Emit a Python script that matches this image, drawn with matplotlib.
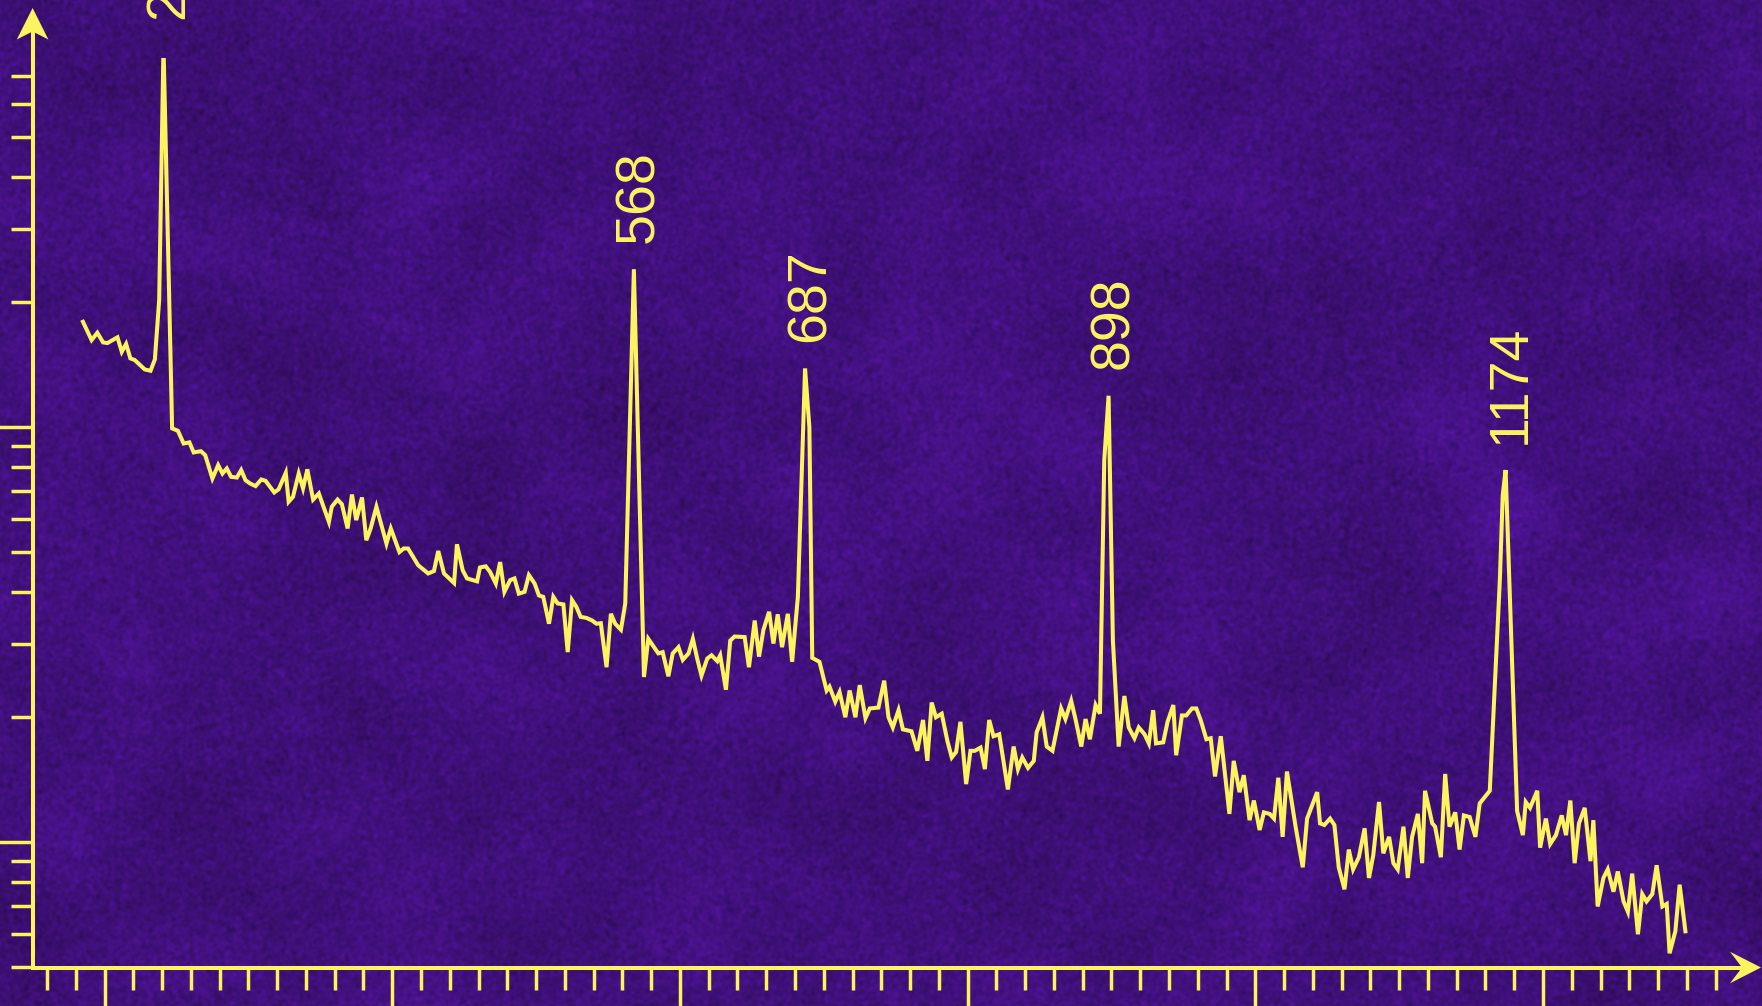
import numpy as np
import matplotlib
matplotlib.use("Agg")
import matplotlib.pyplot as plt
from matplotlib.ticker import MultipleLocator, LogLocator, NullFormatter
from matplotlib.patches import Polygon
from matplotlib.lines import Line2D

# Raman shift (cm^-1) and measured intensity (counts)
wavenumber = [
    185, 191, 195, 199, 202, 209, 212, 215, 218, 221, 228, 232, 235, 238, 241,
    247, 251, 255, 259, 262, 267, 270, 275, 279, 282, 285, 288, 292, 295, 298,
    301, 305, 309, 312, 318, 321, 326, 328, 331, 335, 338, 341, 345, 349, 351,
    356, 358, 362, 365, 369, 372, 375, 379, 382, 385, 389, 396, 399, 405, 408,
    411, 418, 425, 429, 432, 436, 443, 445, 449, 452, 459, 461, 465, 468, 472,
    475, 478, 482, 485, 488, 492, 495, 499, 502, 505, 509, 512, 515, 519, 522,
    525, 528, 531, 535, 539, 542, 545, 549, 552, 555, 559, 562, 568, 575, 578,
    582, 585, 588, 592, 595, 599, 602, 606, 609, 612, 615, 619, 622, 626, 628,
    632, 635, 638, 645, 648, 652, 655, 658, 662, 665, 668, 671, 675, 678, 682,
    687, 690, 692, 697, 702, 704, 708, 711, 715, 718, 722, 725, 729, 732, 738,
    742, 745, 748, 752, 755, 761, 765, 769, 772, 775, 778, 782, 786, 789, 792,
    795, 799, 802, 805, 809, 812, 815, 818, 822, 825, 828, 832, 835, 838, 842,
    846, 848, 852, 855, 859, 862, 865, 868, 872, 875, 879, 882, 885, 889, 892,
    895, 898, 901, 905, 909, 912, 916, 919, 923, 926, 929, 931, 936, 939, 943,
    945, 949, 952, 956, 959, 962, 966, 969, 972, 976, 979, 982, 985, 989, 992,
    996, 999, 1003, 1006, 1010, 1013, 1016, 1019, 1022, 1028, 1033, 1036, 1043,
    1045, 1048, 1052, 1055, 1058, 1062, 1065, 1068, 1072, 1076, 1079, 1082,
    1086, 1089, 1093, 1096, 1099, 1103, 1106, 1109, 1113, 1116, 1118, 1123,
    1125, 1129, 1132, 1135, 1139, 1142, 1145, 1149, 1153, 1156, 1163, 1166,
    1170, 1172, 1174, 1182, 1186, 1188, 1191, 1196, 1198, 1202, 1205, 1209,
    1213, 1216, 1219, 1222, 1225, 1229, 1233, 1235, 1238, 1242, 1245, 1249,
    1252, 1256, 1259, 1262, 1266, 1269, 1272, 1276, 1279, 1283, 1286, 1288,
    1292, 1295, 1299,
]
intensity = [
    1794, 1621, 1688, 1600, 1594, 1646, 1519, 1586, 1464, 1451, 1377, 1367, 1456, 2025, 8300,
    993, 980, 913, 919, 869, 875, 856, 752, 810, 773, 795, 759, 756, 788, 745,
    732, 721, 748, 742, 696, 708, 776, 661, 679, 773, 712, 791, 669, 692, 661,
    591, 643, 669, 652, 570, 688, 597, 677, 534, 570, 643, 524, 570, 500, 510,
    510, 465, 444, 450, 503, 444, 421, 522, 452, 432, 425, 459, 462, 448, 420,
    473, 401, 428, 432, 397, 401, 440, 420, 393, 390, 336, 390, 376, 374, 287,
    383, 369, 349, 347, 342, 336, 337, 264, 355, 336, 325, 376, 2401, 250, 309,
    295, 285, 287, 251, 285, 295, 275, 285, 309, 277, 252, 277, 282, 273, 282,
    233, 306, 313, 312, 264, 342, 280, 324, 359, 301, 354, 295, 355, 272, 390,
    1385, 1000, 278, 272, 232, 237, 218, 230, 200, 232, 200, 239, 199, 210, 211,
    245, 200, 189, 208, 187, 185, 166, 197, 157, 217, 200, 204, 175, 160, 165,
    195, 138, 166, 166, 169, 150, 197, 180, 182, 156, 134, 170, 150, 160, 151,
    157, 184, 200, 170, 166, 187, 210, 198, 219, 198, 170, 198, 177, 214, 204,
    833, 1190, 306, 170, 225, 189, 178, 189, 182, 173, 208, 173, 174, 195, 214,
    162, 202, 202, 210, 210, 197, 177, 178, 144, 180, 145, 117, 157, 132, 145,
    113, 126, 107, 118, 117, 114, 143, 103, 148, 109, 87, 114, 132,
    111, 110, 114, 110, 87, 77, 96, 86, 92, 108, 82, 93,
    125, 94, 103, 89, 86, 109, 82, 103, 117, 89, 133, 111,
    109, 92, 146, 109, 118, 96, 116, 115, 103, 124, 133, 220,
    428, 686, 788, 119, 104, 125, 121, 133, 97, 114, 99, 104,
    116, 104, 126, 89, 111, 121, 90, 113, 70, 82, 86, 76,
    85, 72, 68, 84, 60, 75, 72, 75, 88, 70, 71, 54,
    61, 79, 61,
]
peak_positions = [241, 568, 687, 898, 1174]
peak_labels = ["241", "568", "687", "898", "1174"]

BG = "#40107a"
FG = "#fcf45e"
W, H = 1762, 1006

fig = plt.figure(figsize=(W / 100, H / 100), dpi=100, facecolor=BG)

# Subtly mottled purple backdrop
def _smooth(a, s):
    fy = np.fft.fftfreq(a.shape[0])[:, None]
    fx = np.fft.fftfreq(a.shape[1])[None, :]
    g = np.exp(-2 * (np.pi * s) ** 2 * (fx ** 2 + fy ** 2))
    out = np.real(np.fft.ifft2(np.fft.fft2(a) * g))
    return out / out.std()

rng = np.random.default_rng(11)
coarse = _smooth(rng.standard_normal((H, W)), 30)
fine = _smooth(rng.standard_normal((H, W)), 1.5)
shade = 1 + 0.045 * coarse + 0.06 * fine
base = np.array([64, 16, 122]) / 255
backdrop = np.clip(base[None, None, :] * shade[..., None], 0, 1)
bg_ax = fig.add_axes([0, 0, 1, 1], zorder=-5)
bg_ax.imshow(backdrop, aspect="auto", interpolation="bilinear")
bg_ax.set_axis_off()

ax = fig.add_axes([32.6 / W, 38.5 / H, 1697.4 / W, 909.5 / H])
ax.set_facecolor("none")

ax.plot(wavenumber, intensity, color=FG, lw=2.9, solid_joinstyle="miter")

ax.set_yscale("log")
ax.set_xlim(150, 1330)
ax.set_ylim(49.9, 7750)

ax.xaxis.set_major_locator(MultipleLocator(200))
ax.xaxis.set_minor_locator(MultipleLocator(20))
ax.yaxis.set_major_locator(LogLocator(base=10, numticks=20))
ax.yaxis.set_minor_locator(LogLocator(base=10, subs=np.arange(2, 10), numticks=20))
for axis in (ax.xaxis, ax.yaxis):
    axis.set_major_formatter(NullFormatter())
    axis.set_minor_formatter(NullFormatter())

ax.tick_params(which="major", length=28, width=2.5, color=FG, direction="out")
ax.tick_params(which="minor", length=15.5, width=2.5, color=FG, direction="out")

for side in ("top", "right"):
    ax.spines[side].set_visible(False)
for side in ("left", "bottom"):
    ax.spines[side].set_color(FG)
    ax.spines[side].set_linewidth(2.9)

# Arrow heads at the ends of both axes (figure pixel geometry)
def px(points):
    return [(x / 100, (H - y) / 100) for x, y in points]

tr = fig.dpi_scale_trans
fig.add_artist(Line2D(*zip(*px([(32.6, 59), (32.6, 30)])), color=FG, lw=2.9, transform=tr))
fig.add_artist(Polygon(px([(32.6, 8), (16.8, 39.5), (32.6, 31.5), (48.4, 39.5)]),
                       closed=True, color=FG, transform=tr, lw=0))
fig.add_artist(Line2D(*zip(*px([(1729, 967.5), (1744, 967.5)])), color=FG, lw=2.9, transform=tr))
fig.add_artist(Polygon(px([(1761, 967.5), (1730, 951.7), (1742, 967.5), (1730, 983.3)]),
                       closed=True, color=FG, transform=tr, lw=0))

# Peak position labels
for pos, lab in zip(peak_positions, peak_labels):
    height = intensity[wavenumber.index(pos)]
    ax.annotate(lab, xy=(pos, height), xytext=(4, 19), textcoords="offset points",
                rotation=90, ha="center", va="bottom", fontsize=40, color=FG,
                family="Liberation Sans", annotation_clip=False)

fig.savefig("out.png", dpi=100, facecolor=BG)
